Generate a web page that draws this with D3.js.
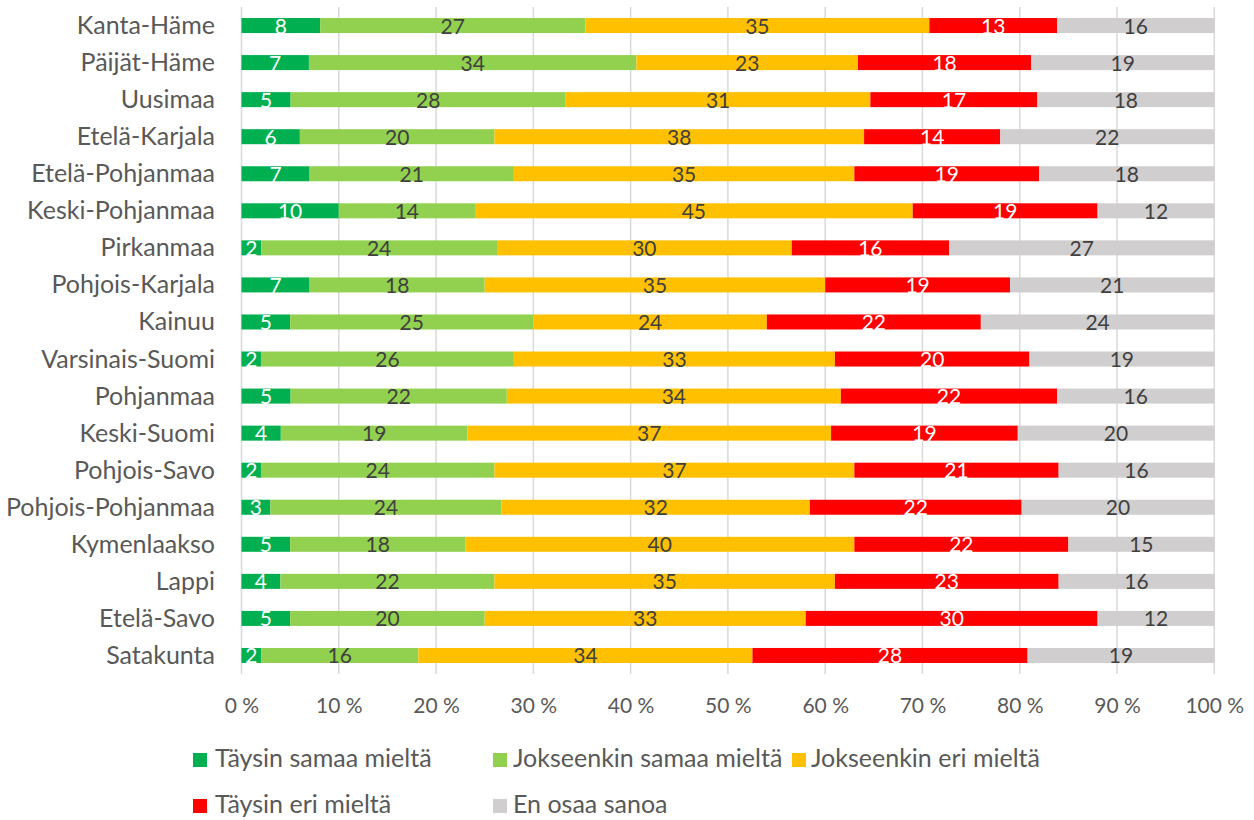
<!DOCTYPE html>
<html>
<head>
<meta charset="utf-8">
<script src="https://cdn.jsdelivr.net/npm/d3@7"></script>
<style>
  html, body { margin: 0; padding: 0; background: #fff; }
  svg { display: block; font-family: Lato, "Open Sans", sans-serif; }
</style>
</head>
<body>
<svg id="chart" width="1254" height="820"></svg>
<script>
// Regions, top to bottom
const regions = [
  "Kanta-Häme", "Päijät-Häme", "Uusimaa", "Etelä-Karjala", "Etelä-Pohjanmaa",
  "Keski-Pohjanmaa", "Pirkanmaa", "Pohjois-Karjala", "Kainuu", "Varsinais-Suomi",
  "Pohjanmaa", "Keski-Suomi", "Pohjois-Savo", "Pohjois-Pohjanmaa", "Kymenlaakso",
  "Lappi", "Etelä-Savo", "Satakunta"
];

// Answer categories (legend order)
const answers = [
  "Täysin samaa mieltä", "Jokseenkin samaa mieltä", "Jokseenkin eri mieltä",
  "Täysin eri mieltä", "En osaa sanoa"
];

// Percent shares per answer category, one value per region
const taysinSamaa    = [8, 7, 5, 6, 7, 10, 2, 7, 5, 2, 5, 4, 2, 3, 5, 4, 5, 2];
const jokseenkinSamaa = [27, 34, 28, 20, 21, 14, 24, 18, 25, 26, 22, 19, 24, 24, 18, 22, 20, 16];
const jokseenkinEri  = [35, 23, 31, 38, 35, 45, 30, 35, 24, 33, 34, 37, 37, 32, 40, 35, 33, 34];
const taysinEri      = [13, 18, 17, 14, 19, 19, 16, 19, 22, 20, 22, 19, 21, 22, 22, 23, 30, 28];
const enOsaa         = [16, 19, 18, 22, 18, 12, 27, 21, 24, 19, 16, 20, 16, 20, 15, 16, 12, 19];

const xTicks = [0, 10, 20, 30, 40, 50, 60, 70, 80, 90, 100];

const seriesValues = [taysinSamaa, jokseenkinSamaa, jokseenkinEri, taysinEri, enOsaa];
const colors = ["#00B050", "#92D050", "#FFC000", "#FF0000", "#D0CECE"];
const labelColors = ["#ffffff", "#404040", "#404040", "#ffffff", "#404040"];

// Build rows and normalise each to a 100 % stack
const rows = regions.map((name, i) => {
  const row = { region: name };
  answers.forEach((a, k) => { row[a] = seriesValues[k][i]; });
  return row;
});
const stacked = d3.stack()
  .keys(answers)
  .offset(d3.stackOffsetExpand)(rows);

const svg = d3.select("#chart");
const plotLeft = 241.5, plotRight = 1214.3, plotTop = 7, plotBottom = 674;

const x = d3.scaleLinear().domain([0, 1]).range([plotLeft, plotRight]);
const y = d3.scaleBand().domain(regions).range([plotTop, plotBottom])
  .paddingInner(0.595).paddingOuter(0.2975);

// Vertical gridlines
svg.append("g")
  .selectAll("line")
  .data(xTicks)
  .join("line")
  .attr("x1", d => x(d / 100)).attr("x2", d => x(d / 100))
  .attr("y1", plotTop).attr("y2", plotBottom)
  .attr("stroke", "#D9D9D9").attr("stroke-width", 1.5);

// Bars
const layers = svg.append("g")
  .selectAll("g")
  .data(stacked)
  .join("g")
  .attr("fill", (d, k) => colors[k]);

layers.selectAll("rect")
  .data(d => d)
  .join("rect")
  .attr("x", d => x(d[0]))
  .attr("width", d => x(d[1]) - x(d[0]))
  .attr("y", d => y(d.data.region))
  .attr("height", y.bandwidth());

// Data labels
const labelLayers = svg.append("g")
  .selectAll("g")
  .data(stacked)
  .join("g")
  .attr("fill", (d, k) => labelColors[k]);

labelLayers.selectAll("text")
  .data(s => s.map(d => ({ d, key: s.key })))
  .join("text")
  .attr("x", o => (x(o.d[0]) + x(o.d[1])) / 2)
  .attr("y", o => y(o.d.data.region) + y.bandwidth() / 2 + 8)
  .attr("text-anchor", "middle")
  .attr("font-size", 21)
  .text(o => o.d.data[o.key]);

// Category axis labels
svg.append("g")
  .selectAll("text")
  .data(regions)
  .join("text")
  .attr("x", 215)
  .attr("y", d => y(d) + y.bandwidth() / 2 + 8.5)
  .attr("text-anchor", "end")
  .attr("font-size", 25)
  .attr("fill", "#595959")
  .text(d => d);

// Percent axis
const xAxis = d3.axisBottom(x)
  .tickValues(xTicks.map(t => t / 100))
  .tickFormat(d => Math.round(d * 100) + " %")
  .tickSize(0).tickPadding(0);
const ax = svg.append("g")
  .attr("transform", `translate(0, ${plotBottom})`)
  .call(xAxis);
ax.select(".domain").remove();
ax.selectAll("text")
  .attr("y", 39)
  .attr("dy", 0)
  .attr("font-size", 21)
  .attr("font-family", "Lato, 'Open Sans', sans-serif")
  .attr("fill", "#595959");

// Legend
const legendPos = [
  { sx: 193, tx: 215, y: 767 },
  { sx: 493, tx: 513, y: 767 },
  { sx: 792, tx: 811, y: 767 },
  { sx: 193, tx: 215, y: 813 },
  { sx: 493, tx: 513, y: 813 }
];
const legend = svg.append("g")
  .selectAll("g")
  .data(answers)
  .join("g");
legend.append("rect")
  .attr("x", (d, k) => legendPos[k].sx)
  .attr("y", (d, k) => legendPos[k].y - 14)
  .attr("width", 14).attr("height", 14)
  .attr("fill", (d, k) => colors[k]);
legend.append("text")
  .attr("x", (d, k) => legendPos[k].tx)
  .attr("y", (d, k) => legendPos[k].y)
  .attr("font-size", 25)
  .attr("fill", "#595959")
  .text(d => d);
</script>
</body>
</html>
